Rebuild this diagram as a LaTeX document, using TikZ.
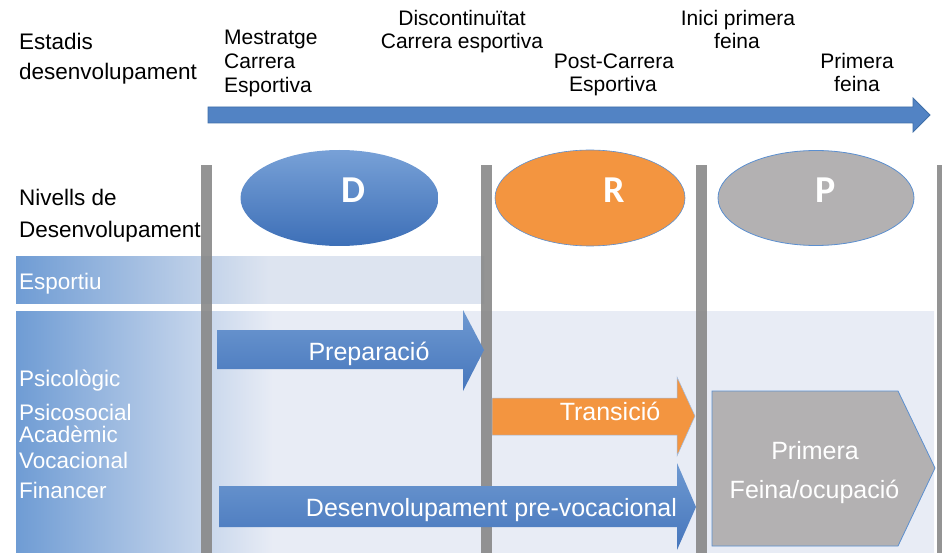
\documentclass[tikz,border=0pt]{standalone}
\usepackage{fontspec}
\setmainfont{Liberation Sans}
\newfontfamily\letterfont{Carlito}
\usepackage{tikz}
\usetikzlibrary{calc}

\definecolor{stageblue}{HTML}{5283C4}
\definecolor{stageedge}{HTML}{3F6FA8}
\definecolor{arrowhi}{HTML}{6E99D1}
\definecolor{arrowlo}{HTML}{4676BC}
\definecolor{ellhi}{HTML}{78A1D7}
\definecolor{elllo}{HTML}{3D6FB7}
\definecolor{careerorange}{HTML}{F39540}
\definecolor{jobgray}{HTML}{B3B1B2}
\definecolor{edgeblue}{HTML}{5B8FD0}
\definecolor{bargray}{HTML}{888888}
\definecolor{bandleft}{HTML}{6F9CD4}
\definecolor{bandsport}{HTML}{DDE4F0}
\definecolor{bandlevel}{HTML}{E8ECF5}

% 色帶的水平漸層：左端藍色，之後為淺色
\pgfdeclarehorizontalshading{sportband}{100bp}{color(0bp)=(bandleft); color(25bp)=(bandleft); color(52bp)=(bandsport); color(100bp)=(bandsport)}
\pgfdeclarehorizontalshading{levelband}{100bp}{color(0bp)=(bandleft); color(25bp)=(bandleft); color(39bp)=(bandlevel); color(100bp)=(bandlevel)}

\begin{document}
\begin{tikzpicture}[x=1pt, y=-1pt,
    lbl/.style={anchor=base west, inner sep=0pt, font=\fontsize{22.5}{27}\selectfont},
    bandlbl/.style={lbl, text=white},
    toplbl/.style={anchor=base, inner sep=0pt, font=\fontsize{21}{24}\selectfont},
    arrowlbl/.style={anchor=base, inner sep=0pt, text=white, font=\fontsize{25}{30}\selectfont},
    letter/.style={anchor=base, inner sep=0pt, text=white, font=\letterfont\bfseries\fontsize{38}{40}\selectfont},
    bar/.style={fill=bargray, opacity=0.9}]

      \useasboundingbox (0,0) rectangle (942,553);

      % 1. 兩條背景色帶
      \shade[shading=sportband] (16,257) rectangle (484,303);
      \shade[shading=levelband] (16,311) rectangle (934,553);

      % 2. 垂直分隔條
      \fill[bar] (200.5,165) rectangle (211.5,553);
      \fill[bar] (480.5,165) rectangle (491.5,553);
      \fill[bar] (695.5,165) rectangle (706.5,553);
      \fill[bar] (937,165) rectangle (948,553);

      % 3. 頂部時間軸
      \fill[stageblue, draw=stageedge, line width=0.8pt]
        (208,107) -- (913,107) -- (913,98) -- (930,115) -- (913,132) -- (913,123) -- (208,123) -- cycle;

      % 4. 三個階段的橢圓 D, R, P
      \shade[top color=ellhi, bottom color=elllo] (339.5,198) ellipse [x radius=99, y radius=48];
      \fill[careerorange, draw=edgeblue, line width=0.6pt] (590,198) ellipse [x radius=95, y radius=48];
      \fill[jobgray, draw=edgeblue, line width=0.8pt] (816,198) ellipse [x radius=98, y radius=47.5];
      \node[letter] (stageD) at (353,203) {D};
      \node[letter] (stageR) at (614,203) {R};
      \node[letter] (stageP) at (826,203) {P};

      % 5. 水平箭頭與五邊形
      \shade[top color=arrowhi, bottom color=arrowlo]
        (217,330) -- (463,330) -- (463,310) -- (484,350) -- (463,391) -- (463,369) -- (217,369) -- cycle;
      \fill[careerorange, draw=edgeblue!60, line width=0.5pt]
        (492,398) -- (677,398) -- (677,377) -- (695,416) -- (677,456) -- (677,435) -- (492,435) -- cycle;
      \shade[top color=arrowhi, bottom color=arrowlo]
        (219,486) -- (677,486) -- (677,463) -- (696,507) -- (677,550) -- (677,527) -- (219,527) -- cycle;
      \fill[jobgray, draw=edgeblue, line width=0.8pt]
        (712,391) -- (898,391) -- (935,468) -- (898,546) -- (712,546) -- cycle;

      % 6. 頂部文字
      \node[lbl] (estadis) at (19,50) {Estadis};
      \node[lbl] (desenv) at (19,80) {desenvolupament};
      \node[toplbl, anchor=base west] (mestratge) at (224,45) {Mestratge};
      \node[toplbl, anchor=base west] (mestratge_b) at (224,69) {Carrera};
      \node[toplbl, anchor=base west] (mestratge_c) at (224,93) {Esportiva};
      \node[toplbl] (discont) at (462,25.5) {Discontinuïtat};
      \node[toplbl] (discont_b) at (462,49) {Carrera esportiva};
      \node[toplbl] (post) at (614,68.5) {Post-Carrera};
      \node[toplbl] (post_b) at (613,92) {Esportiva};
      \node[toplbl] (inici) at (738,25.5) {Inici primera};
      \node[toplbl] (inici_b) at (737,49) {feina};
      \node[toplbl] (primera) at (857,68.5) {Primera};
      \node[toplbl] (primera_b) at (857,92) {feina};

      % 7. 左側文字
      \node[lbl] (nivells) at (19,206) {Nivells de};
      \node[lbl] (nivells_b) at (19,238) {Desenvolupament};
      \node[bandlbl] (esportiu) at (19,290) {Esportiu};
      \node[bandlbl] (psicologic) at (19,386) {Psicològic};
      \node[bandlbl] (psicosocial) at (19,420) {Psicosocial};
      \node[bandlbl] (academic) at (19,442) {Acadèmic};
      \node[bandlbl] (vocacional) at (19,468) {Vocacional};
      \node[bandlbl] (financer) at (19,498) {Financer};

      % 8. 箭頭內文字
      \node[arrowlbl] (preparacio) at (369,360) {Preparació};
      \node[arrowlbl] (transicio) at (610,420) {Transició};
      \node[arrowlbl] (prevoc) at (491.5,516) {Desenvolupament pre-vocacional};
      \node[arrowlbl] (feina) at (815,459) {Primera};
      \node[arrowlbl] (feina_b) at (814.5,498) {Feina/ocupació};
\end{tikzpicture}
\end{document}
